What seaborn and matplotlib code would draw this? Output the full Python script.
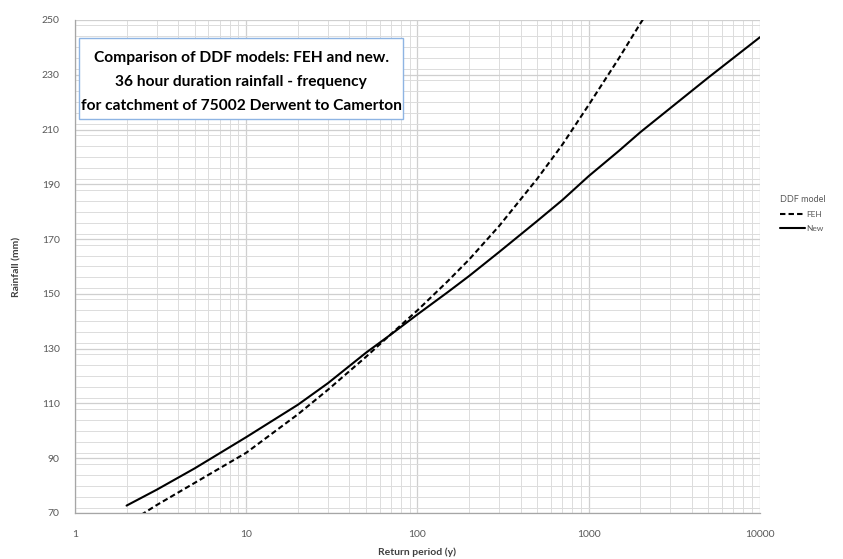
import numpy as np
import pandas as pd
import matplotlib
matplotlib.use("Agg")
import matplotlib.pyplot as plt
import matplotlib.ticker as mticker
from matplotlib.patches import Rectangle
import seaborn as sns

# Return period (y) vs rainfall (mm)
feh_rp = [2, 3, 5, 10, 20, 30, 50, 70, 100, 150, 200, 300, 500, 700, 1000, 1500, 2000, 2500]
feh_rain = [66, 72.9, 81, 92, 106, 115, 127, 135.3, 144, 154.6, 162.5, 174.8, 192, 204.4,
            219, 236, 248.7, 258]

new_rp = [2, 3, 5, 10, 20, 30, 50, 70, 100, 150, 200, 300, 500, 700, 1000, 1500, 2000, 5000, 10000]
new_rain = [72.7, 78.5, 86.3, 97.7, 109.5, 117.4, 128.5, 135.2, 142.5, 150.6, 156.5, 165.3,
            176.6, 184.2, 193, 202.2, 209, 229, 243.7]

y_ticks = [70, 90, 110, 130, 150, 170, 190, 210, 230, 250]

title = ("Comparison of DDF models: FEH and new.\n"
         "36 hour duration rainfall - frequency\n"
         "for catchment of 75002 Derwent to Camerton")

df = pd.concat([
    pd.DataFrame({"Return period (y)": feh_rp, "Rainfall (mm)": feh_rain, "DDF model": "FEH"}),
    pd.DataFrame({"Return period (y)": new_rp, "Rainfall (mm)": new_rain, "DDF model": "New"}),
])

sns.set_style("white")
plt.rcParams["font.family"] = ["Lato", "DejaVu Sans"]

fig = plt.figure(figsize=(8.43, 5.59), dpi=100)
ax = fig.add_axes([0.089, 0.0823, 0.8125, 0.882])

sns.lineplot(data=df, x="Return period (y)", y="Rainfall (mm)", style="DDF model",
             dashes={"FEH": (2.6, 1.5), "New": ""}, color="black", linewidth=1.5,
             sort=False, ax=ax)

ax.set_xscale("log")
ax.set_xlim(1, 10000)
ax.set_ylim(70, 250)
ax.xaxis.set_major_locator(mticker.LogLocator(base=10))
ax.xaxis.set_minor_locator(mticker.LogLocator(base=10, subs=np.arange(2, 10)))
ax.xaxis.set_major_formatter(mticker.FuncFormatter(lambda v, p: f"{v:g}"))
ax.xaxis.set_minor_formatter(mticker.NullFormatter())
ax.yaxis.set_major_locator(mticker.FixedLocator(y_ticks))
ax.yaxis.set_minor_locator(mticker.MultipleLocator(4))

ax.grid(which="major", color="#cfcfcf", linewidth=0.9)
ax.grid(which="minor", color="#dcdcdc", linewidth=0.7)
ax.set_axisbelow(True)

for side in ["top", "right"]:
    ax.spines[side].set_visible(False)
for side in ["left", "bottom"]:
    ax.spines[side].set_color("#a6a6a6")
    ax.spines[side].set_linewidth(0.9)

ax.tick_params(axis="both", which="major", labelsize=7.5, labelcolor="#595959",
               length=4, color="#a6a6a6", direction="out")
ax.tick_params(axis="both", which="minor", length=0)
ax.tick_params(axis="x", pad=8)
ax.tick_params(axis="y", pad=7)

ax.set_xlabel("Return period (y)", fontsize=7.5, fontweight="bold", color="#404040", va="center")
ax.set_ylabel("Rainfall (mm)", fontsize=7.5, fontweight="bold", color="#404040", va="center")
ax.xaxis.set_label_coords(0.4996, -0.079)
ax.yaxis.set_label_coords(-0.085, 0.5)

# title text box (Excel style)
ax.add_patch(Rectangle((0.0058, 0.799), 0.473, 0.1645, transform=ax.transAxes,
                       facecolor="white", edgecolor="#8eb4e3", linewidth=1.0, zorder=5))
ax.text(0.2424, 0.874, title, transform=ax.transAxes, ha="center", va="center",
        multialignment="center", fontsize=11.2, fontweight="bold", color="black",
        linespacing=1.9, zorder=6)

sns.move_legend(ax, "center left", bbox_to_anchor=(1.018, 0.608), frameon=False,
                title="DDF model", fontsize=6, title_fontsize=6.5,
                handlelength=3.0, handletextpad=0.2, labelspacing=0.85)
leg = ax.get_legend()
leg.set_alignment("left")
leg.get_title().set_color("#595959")
for t in leg.get_texts():
    t.set_color("#595959")

fig.savefig("out.png", dpi=100)
